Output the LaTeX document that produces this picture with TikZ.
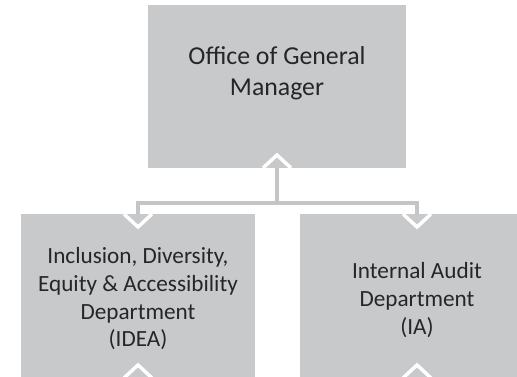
\documentclass[tikz,border=0pt]{standalone}
\usepackage{fontspec}
\setmainfont{Carlito}
\usetikzlibrary{calc}
\definecolor{boxgray}{RGB}{200,201,203}
\definecolor{linegray}{RGB}{196,197,199}
\definecolor{txt}{RGB}{38,38,38}
\begin{document}
\begin{tikzpicture}[x=1pt,y=-1pt,
  box/.style={fill=boxgray,draw=none,inner sep=0pt,outer sep=0pt},
  lbl/.style={align=center,text=txt,inner sep=0pt},
  bigtxt/.style={font=\fontsize{25.8}{30.5}\selectfont},
  smalltxt/.style={font=\fontsize{23.2}{27.7}\selectfont},
  conn/.style={draw=linegray,line width=4.5pt},
  chev/.style={draw=white,line width=3.5pt,line cap=butt,line join=miter}]
\useasboundingbox (0,0) rectangle (517,377);
\clip (0,0) rectangle (517,377);
% boxes
\node[box,minimum width=258pt,minimum height=163pt] (gm) at (277,86.5) {};
\node[box,minimum width=234pt,minimum height=164pt] (idea) at (138,296) {};
\node[box,minimum width=234pt,minimum height=164pt] (ia) at (417,296) {};
% texts
\node[lbl,bigtxt] (gmt) at (277,73.5) {Office of General\\Manager};
\node[lbl,smalltxt] (ideat) at (138,299) {Inclusion, Diversity,\\Equity \& Accessibility\\Department\\(IDEA)};
\node[lbl,smalltxt] (iat) at (417,300) {Internal Audit\\Department\\(IA)};
% connectors
\coordinate (j) at ($(gm.south)+(0,35)$);
\draw[conn] (gm.south) -- (j) -| (idea.north);
\draw[conn] (j) -| (ia.north);
% chevron heads
\draw[chev] ($(gm.south)+(-14,0)$) -- ($(gm.south)+(0,-13)$) -- ($(gm.south)+(14,0)$);
\draw[chev] ($(idea.north)+(-14,0)$) -- ($(idea.north)+(0,13)$) -- ($(idea.north)+(14,0)$);
\draw[chev] ($(ia.north)+(-14,0)$) -- ($(ia.north)+(0,13)$) -- ($(ia.north)+(14,0)$);
\draw[chev] ($(idea.south)+(-14,0)$) -- ($(idea.south)+(0,-13)$) -- ($(idea.south)+(14,0)$);
\draw[chev] ($(ia.south)+(-14,0)$) -- ($(ia.south)+(0,-13)$) -- ($(ia.south)+(14,0)$);
\end{tikzpicture}
\end{document}
